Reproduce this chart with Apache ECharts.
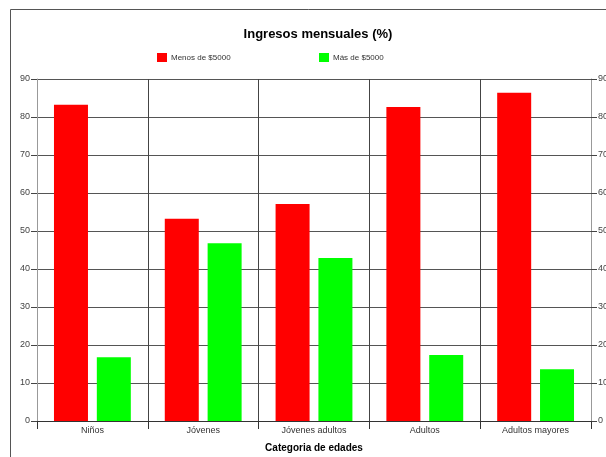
<!DOCTYPE html>
<html><head><meta charset="utf-8">
<script src="https://cdn.jsdelivr.net/npm/echarts@6/dist/echarts.min.js"></script>
<style>html,body{margin:0;padding:0;background:#fff}#c{width:606px;height:457px}</style>
</head><body><div id="c"></div>
<script>
const categories = ['Niños', 'Jóvenes', 'Jóvenes adultos', 'Adultos', 'Adultos mayores'];
const menos5000 = [83.2, 53.2, 57.1, 82.6, 86.4];
const mas5000 = [16.8, 46.8, 42.9, 17.4, 13.6];
const seriesNames = ['Menos de $5000', 'Más de $5000'];
const yTicks = {min: 0, max: 90, interval: 10};

const chart = echarts.init(document.getElementById('c'), null, {renderer: 'canvas'});
const FONT = 'Liberation Sans, Arial, sans-serif';
const yAxisCommon = {
  type: 'value', min: yTicks.min, max: yTicks.max, interval: yTicks.interval,
  axisLine: {show: true, lineStyle: {color: '#999', width: 1}},
  axisTick: {show: true, inside: false, length: 6, lineStyle: {color: '#444'}},
  axisLabel: {color: '#444', fontSize: 9, fontFamily: FONT, margin: 7},
  splitLine: {show: true, lineStyle: {color: '#555', width: 1}}
};
const legendCommon = {itemWidth: 10, itemHeight: 9, itemGap: 4, padding: 0,
  icon: 'rect', textStyle: {fontSize: 8, color: '#333', fontFamily: FONT, padding: [0,0,0,-1]}};
chart.setOption({
  animation: false,
  backgroundColor: '#fff',
  title: {
    text: 'Ingresos mensuales (%)', left: 313, top: 23, textAlign: 'center',
    textStyle: {fontSize: 13, fontWeight: 'bold', color: '#000', fontFamily: FONT}
  },
  legend: [
    Object.assign({data: [seriesNames[0]], left: 157, top: 53}, legendCommon),
    Object.assign({data: [seriesNames[1]], left: 319, top: 53}, legendCommon)
  ],
  grid: {left: 37, right: 15, top: 79, bottom: 36, containLabel: false, outerBoundsMode: 'none'},
  xAxis: {
    type: 'category', data: categories, boundaryGap: true,
    name: 'Categoria de edades', nameLocation: 'middle', nameGap: 22,
    nameTextStyle: {fontSize: 10, fontWeight: 'bold', color: '#000', fontFamily: FONT},
    axisLine: {show: true, lineStyle: {color: '#333'}},
    axisTick: {show: true, length: 8, alignWithLabel: false, lineStyle: {color: '#333'}},
    axisLabel: {color: '#333', fontSize: 9, fontFamily: FONT, margin: 5},
    splitLine: {show: true, lineStyle: {color: '#444', width: 1}}
  },
  yAxis: [
    Object.assign({}, yAxisCommon, {position: 'left'}),
    Object.assign({}, yAxisCommon, {position: 'right', splitLine: {show: false}})
  ],
  series: [
    {name: seriesNames[0], type: 'bar', data: menos5000, barWidth: 34, barGap: '26%',
     itemStyle: {color: '#ff0000'}},
    {name: seriesNames[1], type: 'bar', data: mas5000, barWidth: 34,
     itemStyle: {color: '#00ff00'}}
  ],
  graphic: [
    {type: 'rect', shape: {x: 10.5, y: 9.5, width: 620, height: 470},
     style: {fill: null, stroke: '#555', lineWidth: 1}, silent: true, z: -1}
  ]
});
</script></body></html>
